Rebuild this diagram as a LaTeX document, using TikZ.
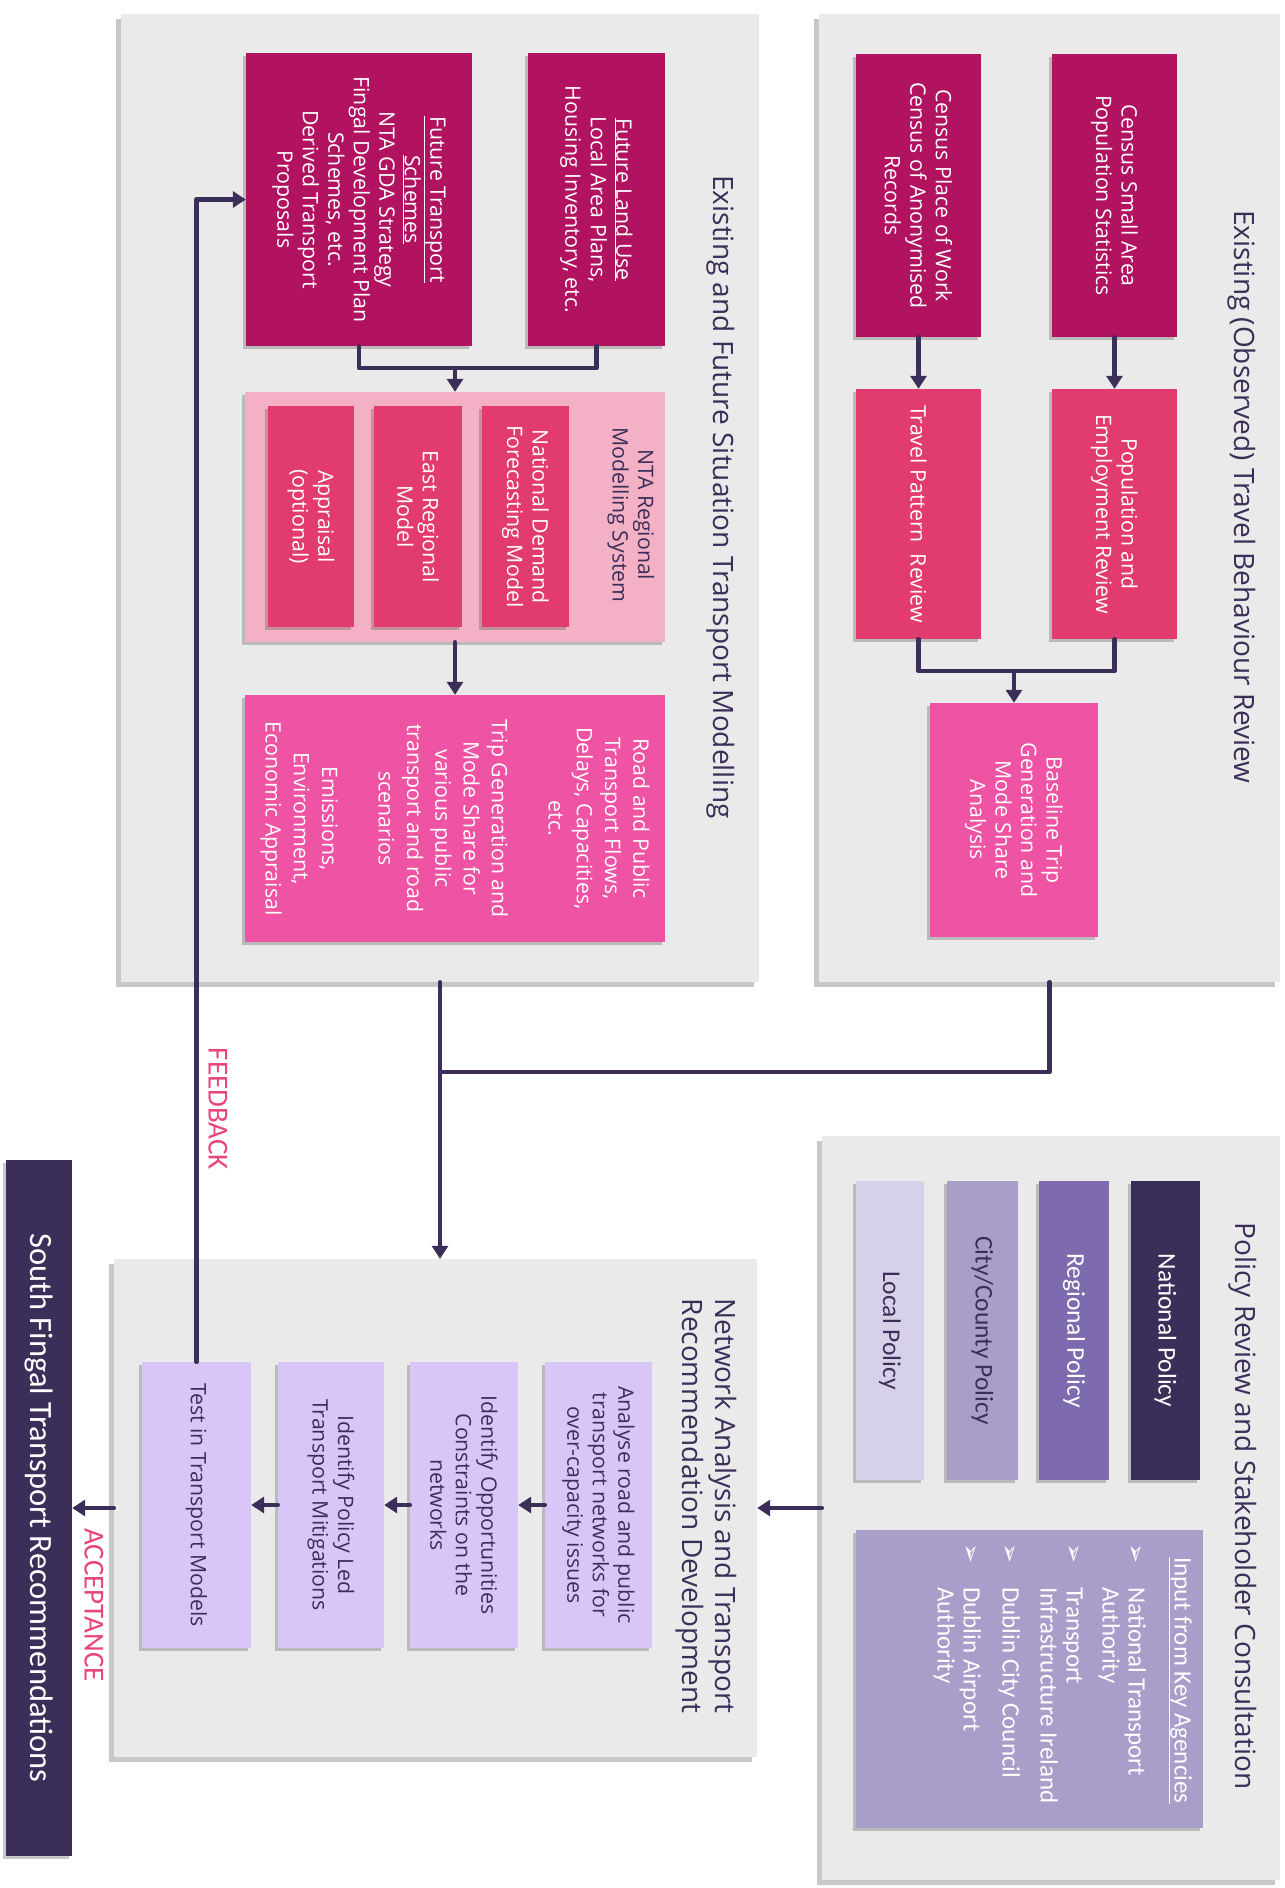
\documentclass[tikz,border=0pt]{standalone}
\usepackage{fontspec}
\setmainfont{Open Sans}
\newfontfamily\carl{Carlito}
\newfontfamily\dejavu{DejaVu Sans}
\usetikzlibrary{arrows.meta,shadows,calc}
\definecolor{navy}{HTML}{3B2E58}
\definecolor{panelgrey}{HTML}{EAEAEA}
\definecolor{magA}{HTML}{B11361}
\definecolor{magB}{HTML}{E23C6F}
\definecolor{magC}{HTML}{EF53A3}
\definecolor{pinkL}{HTML}{F4B0C5}
\definecolor{lav}{HTML}{D9C6F9}
\definecolor{purB}{HTML}{7E6AAE}
\definecolor{purC}{HTML}{A99DC9}
\definecolor{purD}{HTML}{D6D0E8}
\definecolor{labred}{HTML}{E8457C}
\tikzset{
  panel/.style={fill=panelgrey, draw=none, inner sep=0pt,
    drop shadow={shadow xshift=-5pt, shadow yshift=-5pt, opacity=.3, fill=black!70}},
  box/.style={draw=none, inner sep=0pt,
    drop shadow={shadow xshift=-3pt, shadow yshift=-3pt, opacity=.3, fill=black!70}},
  wtxt/.style={rotate=-90, align=center, inner sep=0pt, text=white,
    font=\fontsize{21.3}{25.5}\selectfont},
  dtxt/.style={wtxt, text=navy},
  ptxt/.style={rotate=-90, align=center, inner sep=0pt, font=\carl\fontsize{25.5}{28}\selectfont},
  title/.style={rotate=-90, align=center, inner sep=0pt, text=navy,
    font=\fontsize{28}{33}\selectfont},
  lab/.style={rotate=-90, inner sep=0pt, text=labred, font=\carl\fontsize{29}{29}\selectfont},
  conn/.style={draw=navy, line width=4.5pt, line cap=round, line join=round},
  arr/.style={conn, -{Triangle[length=13pt,width=16pt]}}
}
\newcommand{\kabullet}{\makebox[44pt][l]{\dejavu\fontsize{24}{24}\selectfont ➢}}
\begin{document}
\begin{tikzpicture}[x=1pt,y=-1pt]
\fill[white] (0,0) rectangle (1285,1888);
\useasboundingbox (0,0) rectangle (1285,1888);

% panels
\node[panel, minimum width=638pt, minimum height=968pt] (pTL) at (440,498) {};
\node[panel, minimum width=461pt, minimum height=968pt] (pTR) at (1049.5,498) {};
\node[panel, minimum width=458pt, minimum height=744pt] (pBR) at (1051,1508) {};
\node[panel, minimum width=643pt, minimum height=498pt] (pBL) at (435.5,1508) {};

% titles
\node[title] (tTL) at (721,497) {Existing and Future Situation Transport Modelling};
\node[title] (tTR) at (1242,497) {Existing (Observed) Travel Behaviour Review};
\node[title] (tBR) at (1243,1506) {Policy Review and Stakeholder Consultation};
\node[title] (tBL) at (706,1506) {Network Analysis and Transport\\Recommendation Development};

% top-left panel boxes
\node[box, fill=magA, minimum width=137pt, minimum height=293pt] (fl) at (596.5,199.5) {};
\node[wtxt] (fl-t) at (fl) {\underline{Future Land Use}\\Local Area Plans,\\Housing Inventory, etc.};
\node[box, fill=magA, minimum width=226pt, minimum height=293pt] (ft) at (359,199.5) {};
\node[wtxt] (ft-t) at (ft) {\underline{Future Transport}\\\underline{Schemes}\\NTA GDA Strategy\\Fingal Development Plan\\Schemes, etc.\\Derived Transport\\Proposals};

\node[box, fill=pinkL, minimum width=420pt, minimum height=250pt] (nta) at (455,517) {};
\node[dtxt] (nta-t) at (631,515) {NTA Regional\\Modelling System};
\node[box, fill=magB, minimum width=87pt, minimum height=221pt] (nd) at (525.5,516.5) {};
\node[wtxt] (nd-t) at (nd) {National Demand\\Forecasting Model};
\node[box, fill=magB, minimum width=88pt, minimum height=221pt] (er) at (418,516.5) {};
\node[wtxt] (er-t) at (er) {East Regional\\Model};
\node[box, fill=magB, minimum width=86pt, minimum height=221pt] (ap) at (311,516.5) {};
\node[wtxt] (ap-t) at (ap) {Appraisal\\(optional)};

\node[box, fill=magC, minimum width=420pt, minimum height=247pt] (road) at (455,818.5) {};
\node[wtxt, font=\fontsize{21.3}{28.3}\selectfont] (road-t) at (road) {Road and Public\\Transport Flows,\\Delays, Capacities,\\etc.\\[28.3pt]Trip Generation and\\Mode Share for\\various public\\transport and road\\scenarios\\[28.3pt]Emissions,\\Environment,\\Economic Appraisal};

% top-right panel boxes
\node[box, fill=magA, minimum width=125pt, minimum height=283pt] (csa) at (1114.5,195.5) {};
\node[wtxt] (csa-t) at (csa) {Census Small Area\\Population Statistics};
\node[box, fill=magA, minimum width=125pt, minimum height=283pt] (cpw) at (918.5,195.5) {};
\node[wtxt] (cpw-t) at (cpw) {Census Place of Work\\Census of Anonymised\\Records};
\node[box, fill=magB, minimum width=125pt, minimum height=250pt] (pe) at (1114.5,514) {};
\node[wtxt] (pe-t) at (pe) {Population and\\Employment Review};
\node[box, fill=magB, minimum width=125pt, minimum height=250pt] (tp) at (918.5,514) {};
\node[wtxt] (tp-t) at (tp) {Travel Pattern\ \ Review};
\node[box, fill=magC, minimum width=168pt, minimum height=234pt] (bl) at (1014,820) {};
\node[wtxt] (bl-t) at (bl) {Baseline Trip\\Generation and\\Mode Share\\Analysis};

% policy panel boxes
\node[box, fill=navy, minimum width=69pt, minimum height=299pt] (np) at (1165.5,1330.5) {};
\node[ptxt, text=white] (np-t) at (np) {National Policy};
\node[box, fill=purB, minimum width=70pt, minimum height=299pt] (rp) at (1074,1330.5) {};
\node[ptxt, text=white] (rp-t) at (rp) {Regional Policy};
\node[box, fill=purC, minimum width=71pt, minimum height=299pt] (cp) at (982.5,1330.5) {};
\node[ptxt, text=navy] (cp-t) at (cp) {City/County Policy};
\node[box, fill=purD, minimum width=68pt, minimum height=299pt] (lp) at (890,1330.5) {};
\node[ptxt, text=navy] (lp-t) at (lp) {Local Policy};
\node[box, fill=purC, minimum width=347pt, minimum height=298pt] (ka) at (1029.5,1679) {};
\node[rotate=-90, anchor=north west, inner sep=0pt, text=white,
      font=\carl\fontsize{25}{26}\selectfont] (ka-t) at (1193,1543)
  {\begin{tabular}{@{}l@{}l@{}}
   \multicolumn{2}{@{}l@{}}{\hspace{14pt}\underline{Input from Key Agencies}}\\[20pt]
   \kabullet & National Transport\\
   & Authority\\[10pt]
   \kabullet & Transport\\
   & Infrastructure Ireland\\[12pt]
   \kabullet & Dublin City Council\\[13pt]
   \kabullet & Dublin Airport\\
   & Authority
   \end{tabular}};

% network panel boxes
\node[box, fill=lav, minimum width=107pt, minimum height=286pt] (an) at (598.5,1505) {};
\node[dtxt] (an-t) at (an) {Analyse road and public\\transport networks for\\over-capacity issues};
\node[box, fill=lav, minimum width=108pt, minimum height=286pt] (io) at (464,1505) {};
\node[dtxt] (io-t) at (io) {Identify Opportunities\\Constraints on the\\networks};
\node[box, fill=lav, minimum width=106pt, minimum height=286pt] (ip) at (331,1505) {};
\node[dtxt] (ip-t) at (ip) {Identify Policy Led\\Transport Mitigations};
\node[box, fill=lav, minimum width=109pt, minimum height=286pt] (tt) at (196.5,1505) {};
\node[dtxt] (tt-t) at (tt) {Test in Transport Models};

% final bar
\node[box, fill=navy, minimum width=66pt, minimum height=696pt] (bar) at (39,1508) {};
\node[rotate=-90, inner sep=0pt, text=white, font=\carl\fontsize{32.5}{32.5}\selectfont] (bar-t) at (bar) {South Fingal Transport Recommendations};

% connectors inside panels
\draw[conn] (ft.south) -- ++(0,22) coordinate (m1) -| (fl.south);
\draw[arr] (nta.north |- m1) -- (nta.north);
\draw[arr] (nta.south) -- (road.north);
\draw[arr] (csa.south) -- (pe.north);
\draw[arr] (cpw.south) -- (tp.north);
\draw[conn] (tp.south) -- ++(0,32) coordinate (m2) -| (pe.south);
\draw[arr] (bl.north |- m2) -- (bl.north);

% between panels
\coordinate (j1) at (440,1072);
\draw[conn] (pTR.south) |- (j1);
\draw[arr] (pTL.south) -- (pTL.south |- pBL.north);
\draw[arr] (pBR.west) -- (pBL.east);
\draw[arr] (an.west) -- (io.east);
\draw[arr] (io.west) -- (ip.east);
\draw[arr] (ip.west) -- (tt.east);
\draw[arr] (pBL.west) -- (bar.east);
\draw[arr] (tt.north) |- (ft.west);

% labels
\node[lab] (fbl) at (218,1109) {FEEDBACK};
\node[lab] (acl) at (94,1605) {ACCEPTANCE};
\end{tikzpicture}
\end{document}
